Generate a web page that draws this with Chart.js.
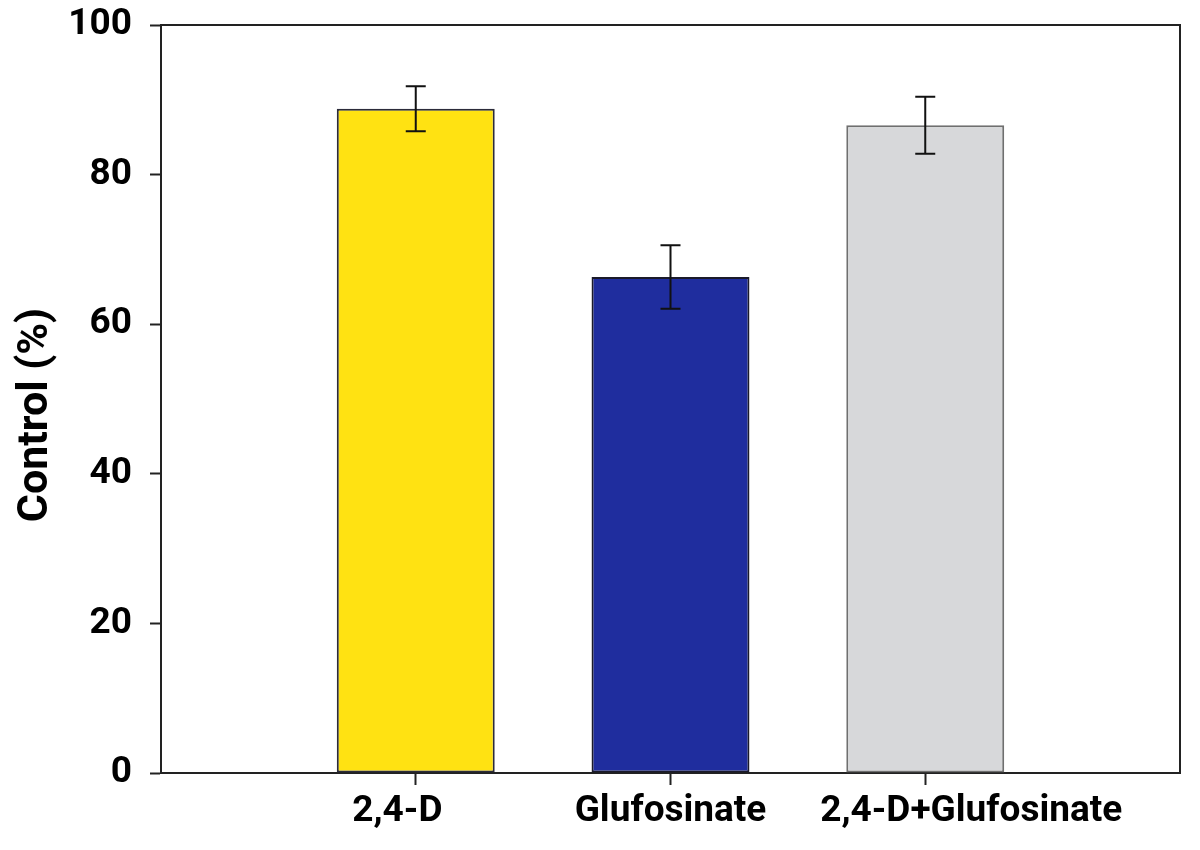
<!DOCTYPE html>
<html>
<head>
<meta charset="utf-8">
<script src="https://cdn.jsdelivr.net/npm/chart.js@4.4.1/dist/chart.umd.min.js"></script>
<style>
  html, body { margin: 0; padding: 0; background: #fff; }
  #wrap { width: 1200px; height: 850px; }
</style>
</head>
<body>
<div id="wrap"><canvas id="c" width="1200" height="850"></canvas></div>
<script>
const categories = ['2,4-D', 'Glufosinate', '2,4-D+Glufosinate'];
const positions = [1, 2, 3];
const controlValues = [88.8, 66.3, 86.6];
const errorValues = [3.0, 4.25, 3.8];
const barColors = ['#FFE212', '#1F2D9E', '#D7D8DA'];
const barBorders = ['#2b2b3a', '#1a1a2a', '#6f6f6f'];
const yTicks = [0, 20, 40, 60, 80, 100];

const FONT = 'Roboto, "Liberation Sans", sans-serif';
// label nudges (in spaces) so the tick labels sit where the original places them
const labelPadBefore = [0, 0, 10];
const labelPadAfter = [4, 0, 0];

const errorBarPlugin = {
  id: 'errorBars',
  afterDatasetsDraw(chart) {
    const ctx = chart.ctx;
    const xs = chart.scales.x, ys = chart.scales.y;
    ctx.save();
    ctx.strokeStyle = '#111';
    ctx.lineWidth = 2;
    positions.forEach((p, i) => {
      const x = xs.getPixelForValue(p);
      const yTop = ys.getPixelForValue(controlValues[i] + errorValues[i]);
      const yBot = ys.getPixelForValue(controlValues[i] - errorValues[i]);
      const cap = 10;
      ctx.beginPath();
      ctx.moveTo(x, yTop); ctx.lineTo(x, yBot);
      ctx.moveTo(x - cap, yTop); ctx.lineTo(x + cap, yTop);
      ctx.moveTo(x - cap, yBot); ctx.lineTo(x + cap, yBot);
      ctx.stroke();
    });
    ctx.restore();
  }
};

const frameBoxPlugin = {
  id: 'frameBox',
  afterDraw(chart) {
    const a = chart.chartArea, ctx = chart.ctx;
    ctx.save();
    ctx.strokeStyle = '#222';
    ctx.lineWidth = 2;
    ctx.beginPath();
    ctx.moveTo(a.left, a.top); ctx.lineTo(a.right, a.top); ctx.lineTo(a.right, a.bottom);
    ctx.stroke();
    ctx.restore();
  }
};

new Chart(document.getElementById('c'), {
  type: 'bar',
  data: {
    datasets: [{
      data: positions.map((p, i) => ({ x: p, y: controlValues[i] })),
      backgroundColor: barColors,
      borderColor: barBorders,
      borderWidth: 2,
      borderSkipped: false,
      barPercentage: 0.62,
      categoryPercentage: 1.0
    }]
  },
  options: {
    responsive: false,
    animation: false,
    devicePixelRatio: 1,
    layout: { padding: { left: 0, right: 20, top: 25, bottom: 0 } },
    plugins: { legend: { display: false }, tooltip: { enabled: false } },
    scales: {
      x: {
        type: 'linear',
        offset: false,
        min: 0, max: 4,
        afterBuildTicks: s => { s.ticks = positions.map(v => ({ value: v })); },
        afterFit: s => { s.height = 77; s.paddingLeft = 0; s.paddingRight = 0; },
        ticks: {
          callback: v => {
            const i = positions.indexOf(v);
            if (i < 0) return '';
            return ' '.repeat(labelPadBefore[i]) + categories[i] + ' '.repeat(labelPadAfter[i]);
          },
          color: '#000',
          font: { family: FONT, size: 37, weight: 'bold' },
          padding: 5,
          maxRotation: 0,
          autoSkip: false
        },
        grid: { offset: false, drawOnChartArea: false, tickLength: 12, tickColor: '#222', tickWidth: 2 },
        border: { color: '#222', width: 2 }
      },
      y: {
        min: 0, max: 100,
        afterBuildTicks: s => { s.ticks = yTicks.map(v => ({ value: v })); },
        afterFit: s => { s.width = 161; s.paddingTop = 0; s.paddingBottom = 0; },
        ticks: {
          color: '#000',
          font: { family: FONT, size: 37, weight: 'bold' },
          padding: 18
        },
        grid: { drawOnChartArea: false, tickLength: 11, tickColor: '#222', tickWidth: 2 },
        border: { color: '#222', width: 2 },
        title: {
          display: true,
          text: 'Control (%)   ',
          color: '#000',
          font: { family: FONT, size: 43, weight: 'bold' },
          padding: { top: 10, bottom: 0 }
        }
      }
    }
  },
  plugins: [errorBarPlugin, frameBoxPlugin]
});
</script>
</body>
</html>
